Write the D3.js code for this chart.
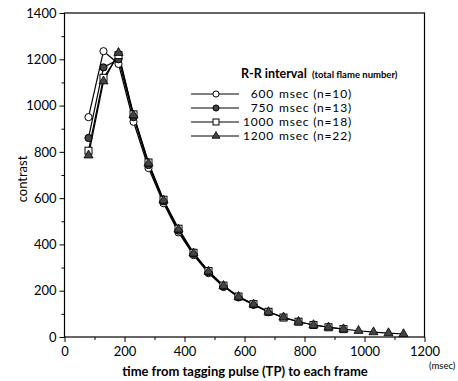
<!DOCTYPE html>
<html>
<head>
<meta charset="utf-8">
<script src="https://cdn.jsdelivr.net/npm/d3@7"></script>
<style>
  body { margin: 0; background: #fff; }
  svg { font-family: Lato, "Open Sans", sans-serif; }
</style>
</head>
<body>
<svg id="chart" width="458" height="381"></svg>
<script>
// frame times (msec), 50 ms apart
const times = [80, 130, 180, 230, 280, 330, 380, 430, 480, 530, 580,
               630, 680, 730, 780, 830, 880, 930, 980, 1030, 1080, 1130];

// contrast per R-R interval
const rr600  = [950, 1235, 1180, 930, 730, 578, 452, 354, 276, 216];
const rr750  = [860, 1165, 1200, 950, 743, 586, 459, 359, 280, 219, 171, 139, 107];
const rr1000 = [805, 1120, 1218, 962, 754, 593, 468, 364, 285, 222, 175, 142, 109, 84, 66, 52, 42, 34];
const rr1200 = [785, 1105, 1228, 958, 750, 591, 465, 362, 283, 221, 174, 141, 108, 85, 66, 52, 42, 34, 27, 21, 17, 13];

const seriesNames = ["600 msec", "750 msec", "1000 msec", "1200 msec"];
const seriesN = ["(n=10)", "(n=13)", "(n=18)", "(n=22)"];
const seriesMarkers = ["openCircle", "filledCircle", "openSquare", "triangle"];

const xTicks = [0, 200, 400, 600, 800, 1000, 1200];
const yTicks = [0, 200, 400, 600, 800, 1000, 1200, 1400];

const allSeries = [rr600, rr750, rr1000, rr1200].map((vals, i) => ({
    name: seriesNames[i],
    n: seriesN[i],
    marker: seriesMarkers[i],
    points: vals.map((v, j) => ({ t: times[j], v: v }))
}));

const margin = { left: 64.5, right: 424.5, top: 13, bottom: 337 };

const x = d3.scaleLinear().domain([0, 1200]).range([margin.left, margin.right]);
const y = d3.scaleLinear().domain([0, 1400]).range([margin.bottom, margin.top]);

const svg = d3.select("#chart");

// frame
svg.append("rect")
    .attr("x", margin.left).attr("y", margin.top)
    .attr("width", margin.right - margin.left)
    .attr("height", margin.bottom - margin.top)
    .attr("fill", "none").attr("stroke", "#000").attr("stroke-width", 1.2);

// minor ticks
const minorY = d3.range(100, 1400, 200);
const minorX = d3.range(100, 1200, 200);

svg.append("g")
    .attr("transform", `translate(${margin.left},0)`)
    .call(d3.axisLeft(y).tickValues(minorY).tickSize(3).tickFormat(""))
    .call(g => g.select(".domain").remove());
svg.append("g")
    .attr("transform", `translate(0,${margin.bottom})`)
    .call(d3.axisBottom(x).tickValues(minorX).tickSize(3).tickFormat(""))
    .call(g => g.select(".domain").remove());

// major ticks
svg.append("g")
    .attr("transform", `translate(${margin.left},0)`)
    .call(d3.axisLeft(y).tickValues(yTicks).tickSize(5).tickPadding(3).tickFormat(d3.format("d")))
    .call(g => g.select(".domain").remove())
    .call(g => g.selectAll("text").attr("font-size", 13).attr("fill", "#000").attr("font-family", "Lato, sans-serif"));
svg.append("g")
    .attr("transform", `translate(0,${margin.bottom})`)
    .call(d3.axisBottom(x).tickValues(xTicks).tickSize(5).tickPadding(5).tickFormat(d3.format("d")))
    .call(g => g.select(".domain").remove())
    .call(g => g.selectAll("text").attr("font-size", 13).attr("fill", "#000").attr("font-family", "Lato, sans-serif"));

// axis titles
svg.append("text")
    .attr("x", 245).attr("y", 376)
    .attr("text-anchor", "middle")
    .attr("font-size", 13).attr("font-weight", "bold")
    .text("time from tagging pulse (TP) to each frame");
svg.append("text")
    .attr("x", 429).attr("y", 369)
    .attr("font-size", 9.5)
    .text("(msec)");
svg.append("text")
    .attr("transform", `translate(27,${(margin.top + margin.bottom) / 2 + 4})rotate(-90)`)
    .attr("text-anchor", "middle")
    .attr("font-size", 13)
    .text("contrast");

// marker drawing
const drawMarker = (sel, type, k = 1) => {
    if (type === "openCircle" || type === "filledCircle") {
        sel.append("circle").attr("r", 3.6 * k)
            .attr("fill", type === "openCircle" ? "#fff" : "#444")
            .attr("stroke", "#000").attr("stroke-width", 1);
    } else if (type === "openSquare") {
        sel.append("rect").attr("x", -3.5 * k).attr("y", -3.5 * k)
            .attr("width", 7 * k).attr("height", 7 * k)
            .attr("fill", "#fff").attr("stroke", "#000").attr("stroke-width", 1);
    } else {
        sel.append("path").attr("d", d3.symbol(d3.symbolTriangle, 36 * k * k)())
            .attr("fill", "#444").attr("stroke", "#000").attr("stroke-width", 0.8);
    }
};

const line = d3.line().x(d => x(d.t)).y(d => y(d.v));

// lines (drawn first, markers on top)
const lineG = svg.append("g");
allSeries.forEach(s => {
    lineG.append("path")
        .datum(s.points)
        .attr("d", line)
        .attr("fill", "none")
        .attr("stroke", "#000")
        .attr("stroke-width", 1.2);
});

const markG = svg.append("g");
allSeries.forEach(s => {
    markG.selectAll(null)
        .data(s.points)
        .join("g")
        .attr("transform", d => `translate(${x(d.t)},${y(d.v)})`)
        .each(function () { drawMarker(d3.select(this), s.marker); });
});

// legend
const legend = svg.append("g");
legend.append("text")
    .attr("x", 241).attr("y", 78)
    .attr("font-size", 12.5).attr("font-weight", "bold")
    .text("R-R interval");
legend.append("text")
    .attr("x", 312).attr("y", 78)
    .attr("font-size", 9.5)
    .attr("font-weight", "bold")
    .text("(total flame number)");

const rowY = [94, 108, 122, 136];
allSeries.forEach((s, i) => {
    const row = legend.append("g").attr("transform", `translate(0,${rowY[i]})`);
    row.append("line")
        .attr("x1", 191).attr("x2", 239)
        .attr("y1", 0).attr("y2", 0)
        .attr("stroke", "#000").attr("stroke-width", 1);
    const m = row.append("g").attr("transform", "translate(216,0)");
    drawMarker(m, s.marker, 0.85);
    row.append("text")
        .attr("x", 274).attr("y", 4.3)
        .attr("text-anchor", "end")
        .attr("font-size", 12)
        .attr("letter-spacing", 0.8)
        .text(s.name.split(" ")[0]);
    row.append("text")
        .attr("x", 279).attr("y", 4.3)
        .attr("font-size", 12)
        .attr("letter-spacing", 0.8)
        .text("msec " + s.n);
});
</script>
</body>
</html>
